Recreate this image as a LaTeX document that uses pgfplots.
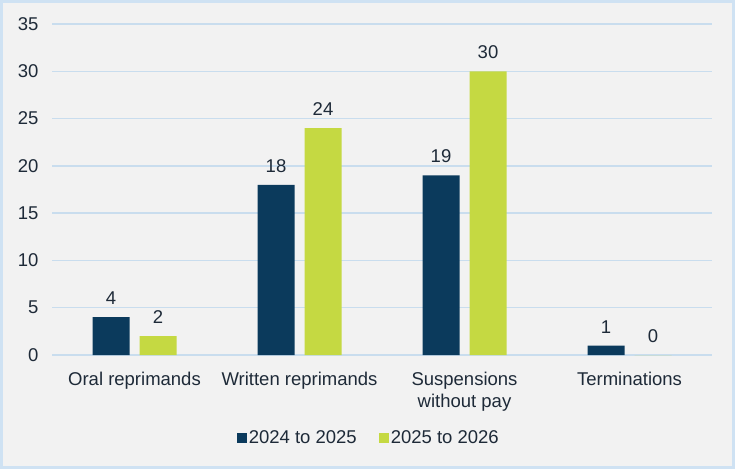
\documentclass[border=0pt]{standalone}
\usepackage{pgfplots}
\pgfplotsset{compat=1.18}
\usepackage{fontspec}
\setmainfont{Liberation Sans}
\definecolor{navy}{HTML}{0B3A5C}
\definecolor{lime}{HTML}{C5D942}
\definecolor{bg}{HTML}{F2F2F2}
\definecolor{framec}{HTML}{CFE2F3}
\definecolor{gridc}{HTML}{C9DDEE}
\definecolor{txt}{HTML}{1E2A38}
\begin{document}
\begin{tikzpicture}
\useasboundingbox (0pt,0pt) rectangle (735pt,469pt);
\fill[bg] (0pt,0pt) rectangle (735pt,469pt);
\draw[framec, line width=3pt] (1.5pt,1.5pt) rectangle (733.5pt,467.5pt);
\begin{axis}[
  at={(52pt,114pt)}, anchor=south west,
  scale only axis, width=660pt, height=331pt,
  ybar=10pt, bar width=37pt,
  xmin=-0.5, xmax=3.5, ymin=0, ymax=35,
  ytick={0,5,...,35},
  xtick={0,1,2,3},
  xticklabels={Oral reprimands, Written reprimands, {Suspensions\\without pay}, Terminations},
  axis line style={draw=none},
  major tick length=0pt,
  ymajorgrids, grid style={gridc, line width=1.5pt},
  /pgf/number format/assume math mode=true,
  tick label style={font=\fontsize{18.5}{22}\selectfont, text=txt},
  yticklabel style={xshift=-10pt},
  xticklabel style={align=center, yshift=-14pt},
  nodes near coords,
  nodes near coords style={font=\fontsize{18.5}{22}\selectfont, text=txt, yshift=9pt},
  legend style={at={(0.48,-0.251)}, anchor=center, draw=none, fill=none,
    font=\fontsize{18.5}{22}\selectfont, text=txt, legend columns=2,
    /tikz/every even column/.append style={column sep=20pt}},
  legend image code/.code={\fill[#1] (0pt,-5pt) rectangle (10pt,5pt);},
]
\addplot[fill=navy, draw=none] coordinates {(0,4) (1,18) (2,19) (3,1)};
\addplot[fill=lime, draw=none] coordinates {(0,2) (1,24) (2,30) (3,0)};
\legend{2024 to 2025, 2025 to 2026}
\end{axis}
\end{tikzpicture}
\end{document}
